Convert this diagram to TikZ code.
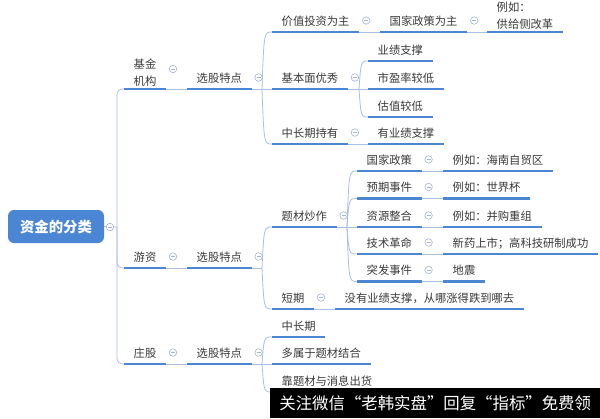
\documentclass[tikz,border=0pt]{standalone}
\usepackage{fontspec}
\setmainfont{Noto Sans CJK SC}
\usetikzlibrary{calc}
\definecolor{ublue}{HTML}{4A86D4}
\definecolor{cline}{HTML}{A9BFE4}
\definecolor{ccirc}{HTML}{A3B5D6}
\definecolor{ctext}{HTML}{3A3A3A}
\newcommand{\brc}[3]{\draw[conn] (#1) .. controls (#2 |- #3.south west) .. (#3.south west);}
\begin{document}
\begin{tikzpicture}[x=1pt,y=-1pt,
  topic/.style={anchor=south west, inner xsep=9.5pt, inner ysep=0pt, text depth=6.5pt,
    font=\fontsize{11.3}{16.5}\selectfont, text=ctext, align=left},
  topictwo/.style={topic, text depth=3.8pt},
  root/.style={fill=ublue, rounded corners=6pt, minimum width=96pt, minimum height=33pt,
    inner sep=0pt, text=white, font=\fontsize{14.4}{16}\selectfont\bfseries},
  uline/.style={draw=ublue, line width=2.5pt},
  conn/.style={draw=cline, line width=0.8pt},
  fold/.style={circle, draw=ccirc, line width=0.6pt, minimum size=7.5pt, inner sep=0pt, fill=white,
    path picture={\draw[ccirc, line width=0.6pt] ([xshift=-2pt]path picture bounding box.center) -- ([xshift=2pt]path picture bounding box.center);}},
  wm/.style={fill=black, text=white, anchor=north west, minimum width=330pt, minimum height=30pt,
    inner sep=0pt, font=\fontsize{16.4}{18}\selectfont}
]
\useasboundingbox[fill=white] (0,0) rectangle (600,418);

% root
\node[root] (root) at (56,226.5) {资金的分类};

% level 1
\node[topictwo] (jj) at (124,89) {基金\\机构};
\node[topic] (yz) at (124,268) {游资};
\node[topic] (zg) at (124,364) {庄股};

% level 2
\node[topic] (xg1) at (187,89) {选股特点};
\node[topic] (xg2) at (187,268) {选股特点};
\node[topic] (xg3) at (187,364) {选股特点};

% level 3
\node[topic] (a1) at (272,32) {价值投资为主};
\node[topic] (a2) at (272,89) {基本面优秀};
\node[topic] (a3) at (272,144) {中长期持有};
\node[topic] (b1) at (272,227) {题材炒作};
\node[topic] (b2) at (272,309) {短期};
\node[topic] (c1) at (272,337) {中长期};
\node[topic] (c2) at (272,364) {多属于题材结合};
\node[topic] (c3) at (272,392) {靠题材与消息出货};

% level 4
\node[topic] (a11) at (380,32) {国家政策为主};
\node[topic] (a21) at (368,61) {业绩支撑};
\node[topic] (a22) at (368,89) {市盈率较低};
\node[topic] (a23) at (368,117) {估值较低};
\node[topic] (a31) at (368,144) {有业绩支撑};
\node[topic] (b11) at (357,171) {国家政策};
\node[topic] (b12) at (357,198.5) {预期事件};
\node[topic] (b13) at (357,227) {资源整合};
\node[topic] (b14) at (357,254) {技术革命};
\node[topic] (b15) at (357,281.5) {突发事件};
\node[topic] (b21) at (335,309) {没有业绩支撑，从哪涨得跌到哪去};

% level 5
\node[topictwo] (a111) at (487,32) {例如：\\供给侧改革};
\node[topic] (b111) at (443,171) {例如：海南自贸区};
\node[topic] (b121) at (443,198.5) {例如：世界杯};
\node[topic] (b131) at (443,227) {例如：并购重组};
\node[topic] (b141) at (443,254) {新药上市；高科技研制成功};
\node[topic] (b151) at (443,281.5) {地震};

% branch points
\coordinate (tr) at (117,227);
\coordinate (p1) at (262,89);  \coordinate (p1c) at (264,89);
\coordinate (p2) at (262,268); \coordinate (p2c) at (264,268);
\coordinate (p3) at (262,364); \coordinate (p3c) at (264,364);
\coordinate (q1) at (359,89);  \coordinate (q1c) at (361,89);
\coordinate (q2) at (347,227); \coordinate (q2c) at (349,227);

% connectors
\draw[conn] (root.east) -- (tr);
\draw[conn, rounded corners=5pt] (tr) |- (jj.south west);
\draw[conn, rounded corners=5pt] (tr) |- (yz.south west);
\draw[conn, rounded corners=5pt] (tr) |- (zg.south west);
\draw[conn] (jj.south east) -- (xg1.south west);
\draw[conn] (yz.south east) -- (xg2.south west);
\draw[conn] (zg.south east) -- (xg3.south west);

\draw[conn] (xg1.south east) -- (a2.south west);
\brc{p1}{p1c}{a1}
\brc{p1}{p1c}{a3}
\draw[conn] (xg2.south east) -- (p2);
\brc{p2}{p2c}{b1}
\brc{p2}{p2c}{b2}
\draw[conn] (xg3.south east) -- (c2.south west);
\brc{p3}{p3c}{c1}
\brc{p3}{p3c}{c3}

\draw[conn] (a1.south east) -- (a11.south west);
\draw[conn] (a11.south east) -- (a111.south west);
\draw[conn] (a2.south east) -- (a22.south west);
\brc{q1}{q1c}{a21}
\brc{q1}{q1c}{a23}
\draw[conn] (a3.south east) -- (a31.south west);
\draw[conn] (b1.south east) -- (b13.south west);
\brc{q2}{q2c}{b11}
\brc{q2}{q2c}{b12}
\brc{q2}{q2c}{b14}
\brc{q2}{q2c}{b15}
\draw[conn] (b2.south east) -- (b21.south west);
\foreach \s/\t in {b11/b111,b12/b121,b13/b131,b14/b141,b15/b151}
  \draw[conn] (\s.south east) -- (\t.south west);

% underlines
\foreach \n in {jj,yz,zg,xg1,xg2,xg3,a1,a2,a3,b1,b2,c1,c2,c3,a11,a21,a22,a23,a31,
  b11,b12,b13,b14,b15,b21,a111,b111,b121,b131,b141,b151}
  \draw[uline] (\n.south west) -- (\n.south east);

% fold markers
\node[fold] (froot) at (110,227) {};
\node[fold] (fjj) at ($(jj.south east)+(7,-20)$) {};
\foreach \n in {yz,zg,xg1,xg2,xg3,a1,a2,a3,b1,b2,a11,b11,b12,b13,b14,b15}
  \node[fold] (f\n) at ($(\n.south east)+(7,-11.5)$) {};

% watermark bar
\node[wm] (wm) at (270,388) {关注微信“老韩实盘”回复“指标”免费领};
\end{tikzpicture}
\end{document}
